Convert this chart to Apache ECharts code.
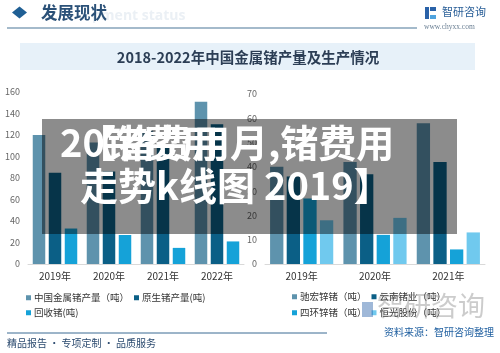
<!DOCTYPE html>
<html><head><meta charset="utf-8">
<script src="https://cdn.jsdelivr.net/npm/echarts@6/dist/echarts.min.js"></script>
<style>html,body{margin:0;padding:0;background:#fff}#c{width:500px;height:353px}</style>
</head><body><div id="c"></div>
<script>
const leftCats = ['2019年','2020年','2021年','2022年'];
const totalGe = [120, 113, 124, 151];
const primaryGe = [85, 86, 109, 130];
const recycledGe = [33, 27, 15, 21];
const rightCats = ['2019年','2020年','2021年'];
const chihong = [40, 42, 58];
const yunnan = [36, 37, 42];
const sihuan = [27, 12, 6];
const hengguang = [18, 19, 13];
const leftTicks = {min:0, max:160, interval:20};
const rightTicks = {min:0, max:70, interval:10};
const leftNames = ['中国金属锗产量（吨）','原生锗产量(吨)','回收锗(吨)'];
const rightNames = ['驰宏锌锗（吨）','云南锗业（吨）','四环锌锗（吨）','恒光股份（吨）'];

const C1='#5e93ad', C2='#0b5f86', C3='#15a2d8', C4='#70c9ee';
const font = '"Noto Sans CJK SC","Noto Sans",sans-serif';
const chart = echarts.init(document.getElementById('c'));
const axX = (gi)=>({type:'category', gridIndex:gi, data: gi===0?leftCats:rightCats,
  axisLine:{lineStyle:{color:'#d9d9d9'}}, axisTick:{show:false},
  axisLabel:{color:'#333', fontSize:10, margin:7, fontFamily:font}});
const axY = (gi,t)=>({type:'value', gridIndex:gi, min:t.min, max:t.max, interval:t.interval,
  axisLine:{show:false}, axisTick:{show:false}, splitLine:{show:false},
  axisLabel:{color:'#666', fontSize:9, margin:8, fontFamily:font}});
const bar = (name, data, color, xi, bw, gap)=>({type:'bar', name, data, xAxisIndex:xi, yAxisIndex:xi,
  barWidth:bw, barGap:gap, itemStyle:{color}, emphasis:{disabled:true}});
const leg = (names, left, top)=>({data:names, left, top, icon:'rect', itemWidth:5, itemHeight:5, itemGap:5,
  textStyle:{color:'#333', fontSize:9.5, fontFamily:font, padding:[0,0,0,-2]}, padding:0, selectedMode:false});
const g = [];
// header
g.push({type:'polygon', shape:{points:[[12,12.5],[19.5,6.5],[27,12.5],[19.5,18.5]]}, style:{fill:'#1f5f94'}});
g.push({type:'text', left:92, top:9, style:{text:'pment status', fill:'#ebf0f5', font:'bold 14px "Open Sans",sans-serif'}});
g.push({type:'text', left:41, top:4, style:{text:'发展现状', fill:'#2b5178', font:'bold 16.5px "Noto Sans CJK SC"'}});
g.push({type:'line', shape:{x1:7,y1:28,x2:417,y2:28}, style:{stroke:'#86a3ba', lineWidth:1.5}});
// logo
g.push({type:'rect', shape:{x:425,y:7,width:4,height:12}, style:{fill:'#2a62a8'}});
g.push({type:'rect', shape:{x:430,y:7,width:6,height:4}, style:{fill:'#2a62a8'}});
g.push({type:'rect', shape:{x:430,y:15,width:6,height:4}, style:{fill:'#4fa3de'}});
g.push({type:'text', left:442, top:6, style:{text:'智研咨询', fill:'#2a5f98', font:'11px "Noto Sans CJK SC"'}});
g.push({type:'text', left:424, top:23, style:{text:'www.chyxx.com', fill:'#6a7f93', font:'7.5px "Liberation Serif",serif'}});
// title band
g.push({type:'rect', shape:{x:20,y:43,width:455,height:27}, style:{fill:'#e7f1f9'}});
g.push({type:'text', x:248, y:57, style:{text:'2018-2022年中国金属锗产量及生产情况', fill:'#2c3e55', font:'bold 14.5px "Noto Sans CJK SC"', align:'center', verticalAlign:'middle'}});
// footer
g.push({type:'line', shape:{x1:7,y1:333,x2:327,y2:333}, style:{stroke:'#3a6a93', lineWidth:1}});
g.push({type:'text', left:384, top:327, style:{text:'资料来源：智研咨询整理', fill:'#1f5fa0', font:'10px "Noto Sans CJK SC"'}});
g.push({type:'text', left:7, top:338, style:{text:'精品报告 · 专项定制 · 品质服务', fill:'#2b4a6f', font:'10px "Noto Sans CJK SC"'}});
// watermark
g.push({type:'rect', shape:{x:362,y:302,width:11,height:15}, style:{fill:'rgba(42,98,168,0.45)'}, z:50});
g.push({type:'text', left:377, top:292, z:50, style:{text:'智研咨询', fill:'rgba(110,110,110,0.35)', font:'27px "Noto Sans CJK SC"'}});
// overlay
g.push({type:'rect', z:100, shape:{x:42,y:119,width:415,height:115}, style:{fill:'rgba(0,0,0,0.45)'}});
g.push({type:'text', z:101, left:60, top:124, style:{text:'20锗费用', fill:'#fff', font:'bold 38px "Noto Sans CJK SC"'}});
g.push({type:'text', z:101, left:78, top:124, style:{text:'【锗费用月,锗费用', fill:'#fff', font:'bold 38px "Noto Sans CJK SC"'}});
g.push({type:'text', z:101, left:80, top:167, style:{text:'走势k线图', fill:'#fff', font:'bold 38px "Noto Sans CJK SC"'}});
g.push({type:'text', z:101, left:264, top:167, style:{text:'2019】', fill:'#fff', font:'bold 38px "Noto Sans CJK SC"'}});

chart.setOption({
  animation:false,
  grid:[{left:28, top:92, width:216, height:172},{left:265, top:94, width:220, height:170}],
  xAxis:[axX(0), axX(1)],
  yAxis:[axY(0,leftTicks), axY(1,rightTicks)],
  legend:[leg(leftNames.slice(0,2),26,293), leg(leftNames.slice(2),26,308),
          leg(rightNames.slice(0,2),292,292), leg(rightNames.slice(2),292,308)],
  series:[
    bar(leftNames[0], totalGe, C1, 0, 12.5, '28%'),
    bar(leftNames[1], primaryGe, C2, 0, 12.5, '28%'),
    bar(leftNames[2], recycledGe, C3, 0, 12.5, '28%'),
    bar(rightNames[0], chihong, C1, 1, 13.3, '25%'),
    bar(rightNames[1], yunnan, C2, 1, 13.3, '25%'),
    bar(rightNames[2], sihuan, C3, 1, 13.3, '25%'),
    bar(rightNames[3], hengguang, C4, 1, 13.3, '25%')
  ],
  graphic:g
});
</script></body></html>
